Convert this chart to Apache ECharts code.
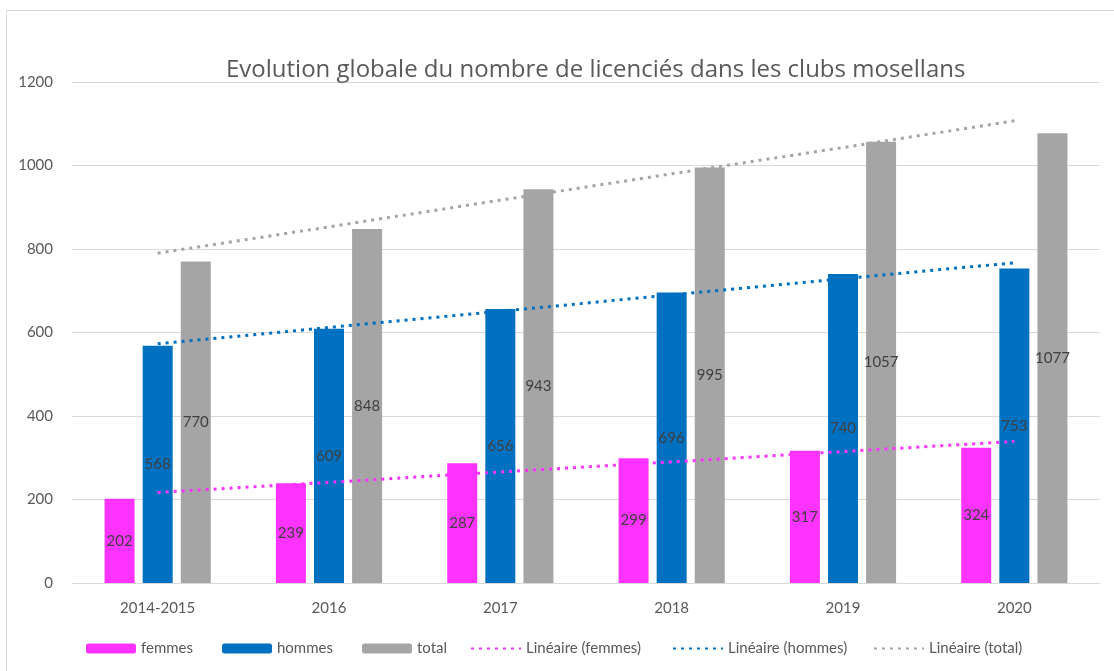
<!DOCTYPE html>
<html>
<head>
<meta charset="utf-8">
<script src="https://cdn.jsdelivr.net/npm/echarts@6/dist/echarts.min.js"></script>
<style>
html,body{margin:0;padding:0;background:#fff;}
#frame{position:absolute;left:6px;top:10px;width:1200px;height:800px;border:1px solid #d9d9d9;box-sizing:border-box;}
#chart{position:absolute;left:0;top:0;width:1114px;height:671px;}
</style>
</head>
<body>
<div id="frame"></div>
<div id="chart"></div>
<script>
const categories = ['2014-2015', '2016', '2017', '2018', '2019', '2020'];
const femmes = [202, 239, 287, 299, 317, 324];
const hommes = [568, 609, 656, 696, 740, 753];
const total = [770, 848, 943, 995, 1057, 1077];
// Linear trendline values
const femmesTrend = [217, 241, 266, 290, 315, 339];
const hommesTrend = [573, 612, 651, 690, 729, 767];
const totalTrend = [790, 853, 917, 980, 1043, 1107];
const yTicks = [0, 200, 400, 600, 800, 1000, 1200];
const seriesNames = ['femmes', 'hommes', 'total', 'Linéaire (femmes)', 'Linéaire (hommes)', 'Linéaire (total)'];

const FONT = 'Lato, "Open Sans", sans-serif';
const cF = '#FF33FF', cH = '#0070C0', cT = '#A5A5A5';

const chart = echarts.init(document.getElementById('chart'));
const barLabel = {show: true, position: 'inside', color: '#404040', fontSize: 15, fontFamily: FONT};
function bar(name, data, color) {
  return {name, type: 'bar', data, barWidth: 30, barGap: '27%',
    itemStyle: {color}, label: barLabel, z: 2};
}
function trend(name, data, color) {
  return {name, type: 'line', data, symbol: 'none', showSymbol: false, smooth: false,
    lineStyle: {color, width: 3, type: [3, 5]}, itemStyle: {color}, z: 3, silent: true};
}
const legendLefts = [81, 217, 357, 465, 667, 868];
const legends = seriesNames.map((n, i) => ({
  top: 636, left: legendLefts[i], itemWidth: 50, itemHeight: 10,
  textStyle: {fontFamily: FONT, fontSize: 15, color: '#595959'},
  data: [i >= 3 ? {name: n, itemStyle: {opacity: 0}} : {name: n}]
}));
chart.setOption({
  animation: false,
  title: {text: 'Evolution globale du nombre de licenciés dans les clubs mosellans',
    left: 221, top: 53,
    textStyle: {fontFamily: '"Open Sans", Lato, sans-serif', fontSize: 24, fontWeight: 'normal', color: '#595959'}},
  grid: {left: 72, right: 14, top: 82, bottom: 88, containLabel: false},
  legend: legends,
  xAxis: {type: 'category', data: categories,
    axisLine: {show: true, lineStyle: {color: '#d9d9d9'}}, axisTick: {show: false},
    axisLabel: {fontFamily: FONT, fontSize: 15, color: '#595959', margin: 18}},
  yAxis: {type: 'value', min: yTicks[0], max: yTicks[yTicks.length - 1], interval: 200,
    axisLine: {show: false}, axisTick: {show: false},
    axisLabel: {fontFamily: FONT, fontSize: 15, color: '#595959', margin: 19,
      formatter: v => String(v)},
    splitLine: {lineStyle: {color: '#d9d9d9', width: 1}}},
  series: [
    bar('femmes', femmes, cF),
    bar('hommes', hommes, cH),
    bar('total', total, cT),
    trend('Linéaire (femmes)', femmesTrend, cF),
    trend('Linéaire (hommes)', hommesTrend, cH),
    trend('Linéaire (total)', totalTrend, cT)
  ]
});
</script>
</body>
</html>
